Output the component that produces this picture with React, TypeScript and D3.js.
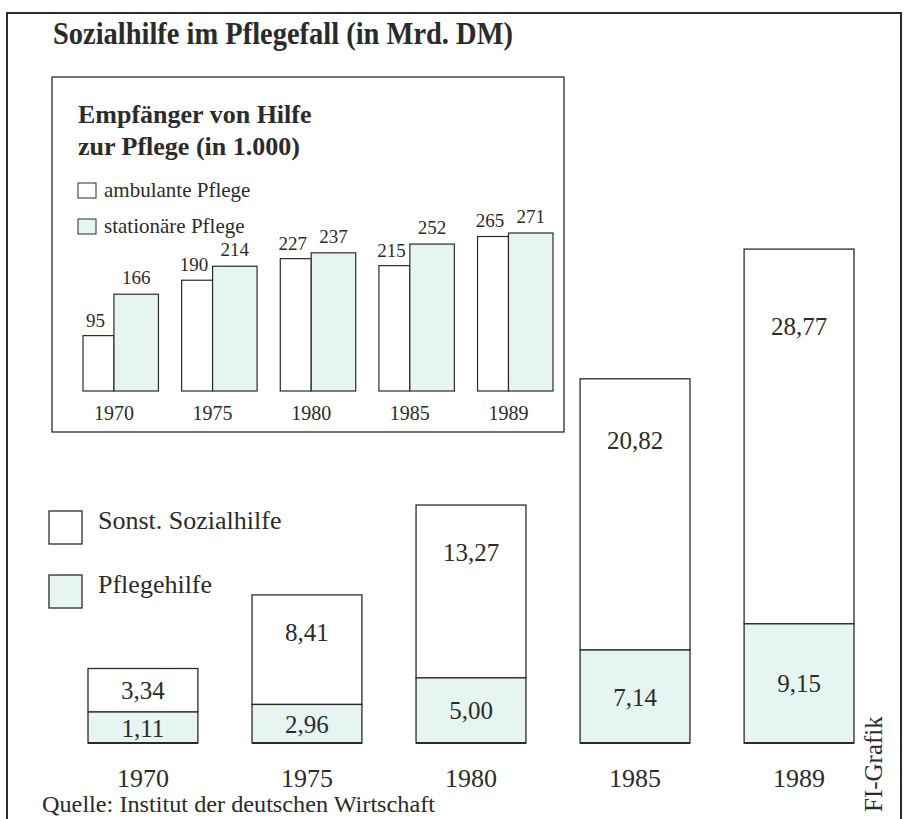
import React, { useEffect, useRef } from 'react';
import * as d3 from 'd3';

// Hauptgrafik: Sozialhilfe im Pflegefall (Mrd. DM)
const years = ['1970', '1975', '1980', '1985', '1989'];
const pflegehilfe = [1.11, 2.96, 5.0, 7.14, 9.15];
const sonstige = [3.34, 8.41, 13.27, 20.82, 28.77];

// Inset: Empfänger von Hilfe zur Pflege (in 1.000)
const ambulant = [95, 190, 227, 215, 265];
const stationaer = [166, 214, 237, 252, 271];

const FILL = '#e6f5f1';
const INK = '#2b2b2b';
const SERIF = '"Liberation Serif", "DejaVu Serif", Times, serif';

const fmt = (v: number) => v.toFixed(2).replace('.', ',');

export default function App() {
    const ref = useRef<SVGSVGElement>(null);

    useEffect(() => {
        const svg = d3.select(ref.current);
        svg.selectAll('*').remove();
        svg.style('font-family', SERIF);

        // outer frame (bottom edge runs off the page)
        svg.append('rect')
            .attr('x', 7).attr('y', 13).attr('width', 894).attr('height', 830)
            .attr('fill', 'white').attr('stroke', INK).attr('stroke-width', 2);

        // the original title face is a tall, condensed bold
        svg.append('text')
            .attr('x', 53).attr('y', 44)
            .attr('font-size', 31).attr('font-weight', 'bold')
            .attr('textLength', 460).attr('lengthAdjust', 'spacingAndGlyphs')
            .attr('fill', INK)
            .text('Sozialhilfe im Pflegefall (in Mrd. DM)');

        // ---- main stacked bars ----
        const x = d3.scaleBand().domain(years).range([88, 854]).paddingInner(0.33).paddingOuter(0);
        const y = d3.scaleLinear().domain([0, 40]).range([743, 743 - 521]);
        const minH = 31; // small segments are drawn taller so the label fits
        const segH = (v: number) => Math.max(y(0) - y(v), minH);

        const main = svg.append('g');
        years.forEach((yr, i) => {
            const x0 = x(yr) as number;
            const bw = x.bandwidth();
            const hP = segH(pflegehilfe[i]);
            const hS = segH(sonstige[i]);
            const base = y(0);
            const topP = base - hP;
            const topS = topP - hS;

            main.append('rect')
                .attr('x', x0).attr('y', topS).attr('width', bw).attr('height', hS)
                .attr('fill', 'white').attr('stroke', INK).attr('stroke-width', 1.3);
            main.append('rect')
                .attr('x', x0).attr('y', topP).attr('width', bw).attr('height', hP)
                .attr('fill', FILL).attr('stroke', INK).attr('stroke-width', 1.3);
            main.append('line')
                .attr('x1', x0).attr('x2', x0 + bw).attr('y1', base).attr('y2', base)
                .attr('stroke', INK).attr('stroke-width', 2);

            const sBase = hS < 60 ? topS + hS / 2 + 9 : topS + 30 + 0.15 * hS;
            main.append('text')
                .attr('x', x0 + bw / 2).attr('y', sBase)
                .attr('text-anchor', 'middle').attr('font-size', 25).attr('fill', INK)
                .text(fmt(sonstige[i]));
            main.append('text')
                .attr('x', x0 + bw / 2).attr('y', topP + hP / 2 + 9)
                .attr('text-anchor', 'middle').attr('font-size', 25).attr('fill', INK)
                .text(fmt(pflegehilfe[i]));
            main.append('text')
                .attr('x', x0 + bw / 2).attr('y', 787)
                .attr('text-anchor', 'middle').attr('font-size', 26).attr('fill', INK)
                .text(yr);
        });

        // main legend
        const legend = [
            { label: 'Sonst. Sozialhilfe', fill: 'white' },
            { label: 'Pflegehilfe', fill: FILL },
        ];
        legend.forEach((d, i) => {
            const ly = 511 + i * 64;
            svg.append('rect')
                .attr('x', 49).attr('y', ly).attr('width', 33).attr('height', 33)
                .attr('fill', d.fill).attr('stroke', INK).attr('stroke-width', 1.3);
            svg.append('text')
                .attr('x', 98).attr('y', ly + 18)
                .attr('font-size', 26).attr('fill', INK)
                .text(d.label);
        });

        // ---- inset ----
        const inset = svg.append('g');
        inset.append('rect')
            .attr('x', 52).attr('y', 77).attr('width', 512).attr('height', 355)
            .attr('fill', 'white').attr('stroke', INK).attr('stroke-width', 1.3);

        inset.append('text')
            .attr('x', 78).attr('y', 123)
            .attr('font-size', 26).attr('font-weight', 'bold').attr('fill', INK)
            .text('Empfänger von Hilfe');
        inset.append('text')
            .attr('x', 78).attr('y', 155)
            .attr('font-size', 26).attr('font-weight', 'bold').attr('fill', INK)
            .text('zur Pflege (in 1.000)');

        const insetLegend = [
            { label: 'ambulante Pflege', fill: 'white' },
            { label: 'stationäre Pflege', fill: FILL },
        ];
        insetLegend.forEach((d, i) => {
            const ly = 183 + i * 36;
            inset.append('rect')
                .attr('x', 78).attr('y', ly).attr('width', 18).attr('height', 15)
                .attr('fill', d.fill).attr('stroke', INK).attr('stroke-width', 1);
            inset.append('text')
                .attr('x', 104).attr('y', ly + 14)
                .attr('font-size', 21).attr('fill', INK)
                .text(d.label);
        });

        const xi = d3.scaleBand().domain(years).range([83, 553]).paddingInner(0.235).paddingOuter(0);
        const yi = d3.scaleLinear().domain([0, 271]).range([391, 233]);
        years.forEach((yr, i) => {
            const g0 = xi(yr) as number;
            const aw = xi.bandwidth() * 0.41;
            const sw = xi.bandwidth() - aw;
            inset.append('rect')
                .attr('x', g0).attr('y', yi(ambulant[i])).attr('width', aw).attr('height', yi(0) - yi(ambulant[i]))
                .attr('fill', 'white').attr('stroke', INK).attr('stroke-width', 1.2);
            inset.append('rect')
                .attr('x', g0 + aw).attr('y', yi(stationaer[i])).attr('width', sw).attr('height', yi(0) - yi(stationaer[i]))
                .attr('fill', FILL).attr('stroke', INK).attr('stroke-width', 1.2);
            inset.append('text')
                .attr('x', g0 + aw / 2 - 3).attr('y', yi(ambulant[i]) - 9)
                .attr('text-anchor', 'middle').attr('font-size', 19).attr('fill', INK)
                .text(ambulant[i]);
            inset.append('text')
                .attr('x', g0 + aw + sw / 2).attr('y', yi(stationaer[i]) - 10)
                .attr('text-anchor', 'middle').attr('font-size', 19).attr('fill', INK)
                .text(stationaer[i]);
            inset.append('text')
                .attr('x', g0 + aw).attr('y', 420)
                .attr('text-anchor', 'middle').attr('font-size', 20).attr('fill', INK)
                .text(yr);
        });

        // source + credit
        svg.append('text')
            .attr('x', 42).attr('y', 812)
            .attr('font-size', 23).attr('fill', INK)
            .attr('textLength', 393).attr('lengthAdjust', 'spacingAndGlyphs')
            .text('Quelle: Institut der deutschen Wirtschaft');
        svg.append('text')
            .attr('transform', 'translate(882, 812) rotate(-90)')
            .attr('font-size', 25).attr('fill', INK)
            .text('FI-Grafik');
    }, []);

    return (
        <svg ref={ref} width={904} height={819}
            style={{ position: 'absolute', left: 0, top: 0, background: 'white' }} />
    );
}
